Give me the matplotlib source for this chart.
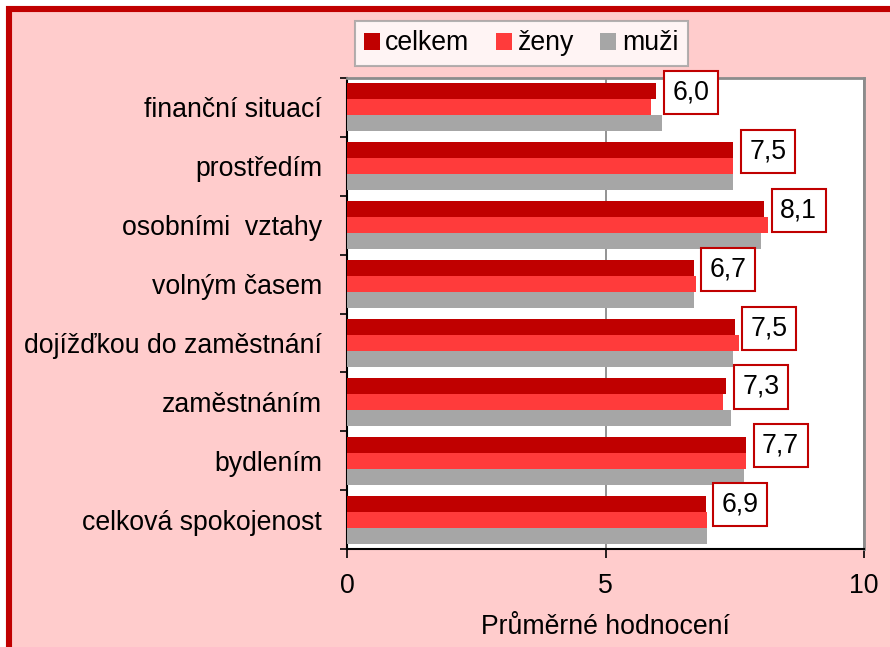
import matplotlib
matplotlib.use("Agg")
import matplotlib.pyplot as plt
from matplotlib.patches import Rectangle, Patch
import numpy as np

plt.rcParams['font.family'] = ['Liberation Sans', 'DejaVu Sans']

categories = ["finanční situací", "prostředím", "osobními  vztahy", "volným časem",
              "dojížďkou do zaměstnání", "zaměstnáním", "bydlením", "celková spokojenost"]
celkem = [5.98, 7.47, 8.07, 6.71, 7.50, 7.34, 7.72, 6.94]
zeny   = [5.88, 7.47, 8.15, 6.75, 7.58, 7.28, 7.72, 6.96]
muzi   = [6.09, 7.47, 8.00, 6.71, 7.47, 7.43, 7.68, 6.96]
series_names = ["celkem", "ženy", "muži"]
colors = ["#C00000", "#FF3B3B", "#A6A6A6"]
x_ticks = [0, 5, 10]
x_label = "Průměrné hodnocení"

FS = 19.2
W, H = 890, 647
fig = plt.figure(figsize=(W/100, H/100), dpi=100, facecolor="white")

# outer frame
fig.patches.append(Rectangle((9/W, -0.2), 1.2, 1 - 9.5/H + 0.2, transform=fig.transFigure,
                             facecolor="#FFCCCC", edgecolor="#C00000", linewidth=4.4, zorder=-10))

ax = fig.add_axes([347/W, 1 - 549/H, (864-347)/W, (549-78)/H])
ax.set_facecolor("white")

n = len(categories)
y = np.arange(n)
bh = 0.272
series = [celkem, zeny, muzi]
for i, (vals, c) in enumerate(zip(series, colors)):
    ax.barh(y + (i - 1) * bh, vals, height=bh, color=c, edgecolor="none", zorder=3,
            label=series_names[i])

for yi, v in zip(y, celkem):
    ax.annotate(f"{v:.1f}".replace(".", ","), xy=(v, yi - bh + 0.02), xytext=(11.5, 0),
                textcoords="offset points", ha="left", va="center", fontsize=FS,
                bbox=dict(boxstyle="square,pad=0.32", facecolor="white", edgecolor="#C00000", linewidth=1.5),
                zorder=5)

ax.set_xlim(0, 10)
ax.set_ylim(n - 0.5, -0.5)
ax.set_xticks(x_ticks)
ax.set_xticklabels([str(t) for t in x_ticks], fontsize=FS)
ax.set_yticks(y)
ax.set_yticklabels(categories, fontsize=FS)
ax.set_yticks(np.arange(n + 1) - 0.5, minor=True)
ax.tick_params(axis="y", which="major", length=0, pad=18)
ax.tick_params(axis="y", which="minor", length=5, width=1.2, direction="out")
ax.tick_params(axis="x", which="major", length=6.5, width=1.2, direction="out", pad=10.5)
ax.xaxis.grid(True, color="#808080", linewidth=1.2, zorder=0)
ax.set_axisbelow(True)
for s in ["left", "bottom"]:
    ax.spines[s].set_color("black")
    ax.spines[s].set_linewidth(1.5)
for s in ["top", "right"]:
    ax.spines[s].set_color("#8C8C8C")
    ax.spines[s].set_linewidth(2)
ax.set_xlabel(x_label, fontsize=FS, labelpad=11)

handles = [Patch(facecolor=c, edgecolor="none") for c in colors]
leg = fig.legend(handles, series_names, loc="center", bbox_to_anchor=(521/W, 1 - 43.5/H),
                 ncol=3, fontsize=FS, frameon=True, fancybox=False, handlelength=0.6,
                 handleheight=0.6, handletextpad=0.2, columnspacing=1.0, borderpad=0.35)
leg.get_frame().set_edgecolor("#A0A0A0")
leg.get_frame().set_linewidth(1.5)
leg.get_frame().set_facecolor("white")

fig.savefig("out.png", dpi=100, facecolor="white")
